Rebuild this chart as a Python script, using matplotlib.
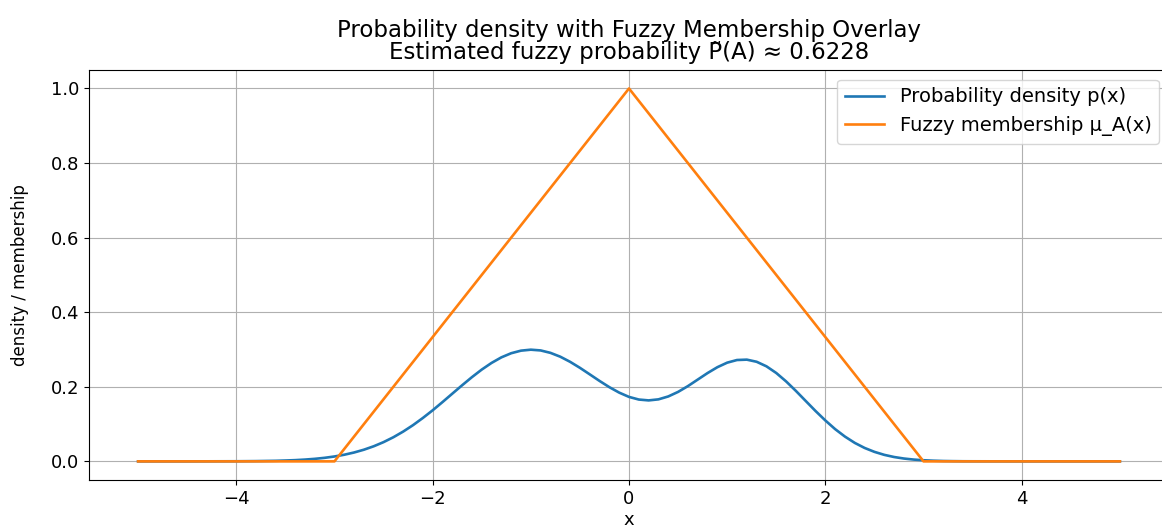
import matplotlib
matplotlib.use("Agg")
import matplotlib.pyplot as plt

# probability density
x_pdf = [-5.0, -4.5, -4.0, -3.8, -3.6, -3.5, -3.4, -3.3, -3.2, -3.1, -3.0,
         -2.9, -2.8, -2.7, -2.6, -2.5, -2.4, -2.3, -2.2, -2.1, -2.0,
         -1.9, -1.8, -1.7, -1.6, -1.5, -1.4, -1.3, -1.2, -1.1, -1.0,
         -0.9, -0.8, -0.7, -0.6, -0.5, -0.4, -0.3, -0.2, -0.1, 0.0,
         0.1, 0.2, 0.3, 0.4, 0.5, 0.6, 0.7, 0.8, 0.9, 1.0,
         1.1, 1.2, 1.3, 1.4, 1.5, 1.6, 1.7, 1.8, 1.9, 2.0,
         2.1, 2.2, 2.3, 2.4, 2.5, 2.6, 2.7, 2.8, 2.9, 3.0,
         3.1, 3.2, 3.3, 3.4, 3.5, 4.0, 4.5, 5.0]
p_pdf = [0.0000, 0.0000, 0.0003, 0.0007, 0.0015, 0.0023, 0.0033, 0.0048, 0.0068, 0.0095, 0.0131,
         0.0178, 0.0238, 0.0313, 0.0405, 0.0516, 0.0647, 0.0799, 0.0971, 0.1163, 0.1369,
         0.1589, 0.1815, 0.2040, 0.2258, 0.2461, 0.2640, 0.2789, 0.2900, 0.2969, 0.2995,
         0.2975, 0.2910, 0.2807, 0.2670, 0.2509, 0.2334, 0.2157, 0.1990, 0.1844, 0.1729,
         0.1658, 0.1635, 0.1663, 0.1741, 0.1863, 0.2018, 0.2193, 0.2368, 0.2525, 0.2647,
         0.2718, 0.2728, 0.2671, 0.2549, 0.2370, 0.2145, 0.1890, 0.1620, 0.1351, 0.1097,
         0.0864, 0.0664, 0.0495, 0.0360, 0.0255, 0.0175, 0.0117, 0.0076, 0.0048, 0.0030,
         0.0018, 0.0010, 0.0006, 0.0003, 0.0002, 0.0000, 0.0000, 0.0000]

# triangular fuzzy membership
x_mu = [-5.0, -3.0, 0.0, 3.0, 5.0]
mu_A = [0.0, 0.0, 1.0, 0.0, 0.0]

fuzzy_prob = 0.6228

fig = plt.figure(figsize=(11.62, 5.29), dpi=100)
# right spine sits just past the figure edge, as in the reference
ax = fig.add_axes([0.0766, 0.0926, 0.9294, 0.7754])

ax.plot(x_pdf, p_pdf, color="tab:blue", lw=1.9, label="Probability density p(x)")
ax.plot(x_mu, mu_A, color="tab:orange", lw=1.9, label="Fuzzy membership μ_A(x)")

ax.set_title("Probability density with Fuzzy Membership Overlay\n"
             f"Estimated fuzzy probability P\u0303(A) \u2248 {fuzzy_prob:.4f}",
             fontsize=16.5, linespacing=0.95, pad=8)
ax.set_xlabel("x", fontsize=13, labelpad=2)
ax.set_ylabel("density / membership", fontsize=12, labelpad=16)
ax.tick_params(labelsize=13)
ax.grid(True)
ax.legend(loc="upper right", fontsize=14, borderaxespad=0.5)

fig.savefig("out.png", dpi=100)
